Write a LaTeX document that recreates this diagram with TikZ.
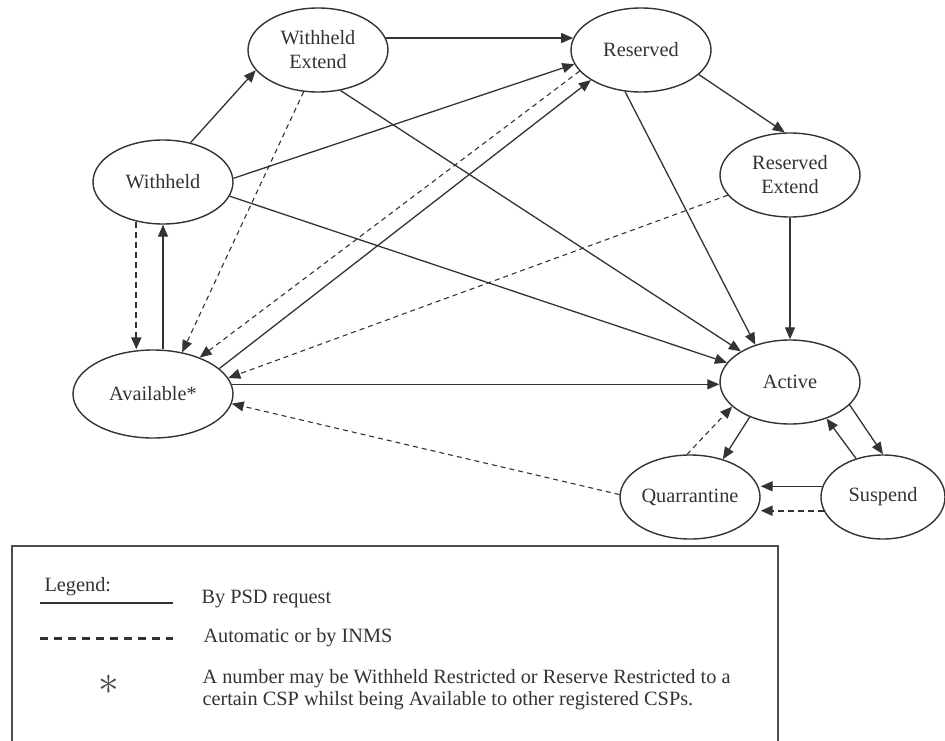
\documentclass[tikz,border=0pt]{standalone}
\usepackage{fontspec}
\setmainfont{Liberation Serif}
\usetikzlibrary{arrows.meta,shapes.geometric}

\begin{document}
\begin{tikzpicture}[x=1pt, y=-1pt, font=\fontsize{20.3}{24}\selectfont,
  >={Triangle[length=12pt,width=10pt]},
  state/.style={ellipse, draw=black!80, line width=1.4pt, text=black!80, align=center,
    inner sep=0pt, minimum width=140pt, minimum height=84pt},
  req/.style={->, draw=black!80, line width=1.3pt},
  auto/.style={->, draw=black!80, line width=1.1pt, dash pattern=on 5pt off 4pt},
  autothick/.style={->, draw=black!80, line width=2.2pt, dash pattern=on 6pt off 4pt}]
  \useasboundingbox (0,0) rectangle (945,741);
  % States
  \node[state] (wx) at (318,50) {Withheld\\Extend};
  \node[state] (res) at (641,50) {Reserved};
  \node[state] (wh) at (163,182) {Withheld};
  \node[state] (rx) at (790,175) {Reserved\\Extend};
  \node[state, minimum width=160pt, minimum height=88pt] (av) at (153,394) {Available*};
  \node[state] (act) at (790,382) {Active};
  \node[state] (qu) at (690,497) {Quarrantine};
  \node[state, minimum width=124pt] (su) at (883,497) {Suspend};
  % Transitions
  \draw[req] (wh.55) -- (wx.198);
  \draw[req] (wx.10) -- (res.170);
  \draw[req] (wh.3) -- (res.192);
  \draw[req] (wh.-12) -- (act.163);
  \draw[req] (wx.-61) -- (act.148);
  \draw[auto] (wx.251) -- (av.55);
  \draw[auto] (res.199) -- (av.38);
  \draw[req] (av.21) -- (res.211);
  \draw[req] (res.-23) -- (rx.97);
  \draw[req] (res.249) -- (act.133);
  \draw[auto] (rx.198) -- (av.12);
  \draw[req] (rx.south) -- (act.north);
  \draw[req] (av.7) -- (av.7 -| act.west);
  \draw[autothick] (wh.236) -- (wh.236 |- av.north);
  \draw[req] (wh.south |- av.north) -- (wh.south);
  \draw[auto] (qu.178) -- (av.-7);
  \draw[auto] (qu.94) -- (act.203);
  \draw[req] (act.221) -- (qu.49);
  \draw[req] (act.-21) -- (su.90);
  \draw[req] (su.125) -- (act.-45);
  \draw[req] (su.170) -- (su.170 -| qu.east);
  \draw[autothick] (su.193) -- (su.193 -| qu.east);
  % Legend
  \draw[black!70, line width=2pt] (12,745) -- (12,546) -- (778,546) -- (778,745);
  \node[anchor=base west, text=black!80] (lgd) at (41,591) {Legend:};
  \draw[black!80, line width=1.5pt] (40,603) -- (173,603);
  \node[anchor=base west, text=black!80] (lreq) at (198,603) {By PSD request};
  \draw[black!80, line width=3pt, dash pattern=on 8pt off 6pt] (40,638) -- (173,638);
  \node[anchor=base west, text=black!80] (lauto) at (200,642) {Automatic or by INMS};
  \node[text=black!70, scale=2] (lstar) at (109,685) {$\ast$};
  \node[anchor=base west, text=black!80, align=left, font=\fontsize{20.3}{22}\selectfont] (lnote) at (199,705)
    {A number may be Withheld Restricted or Reserve Restricted to a\\certain CSP whilst being Available to other registered CSPs.};
\end{tikzpicture}
\end{document}
